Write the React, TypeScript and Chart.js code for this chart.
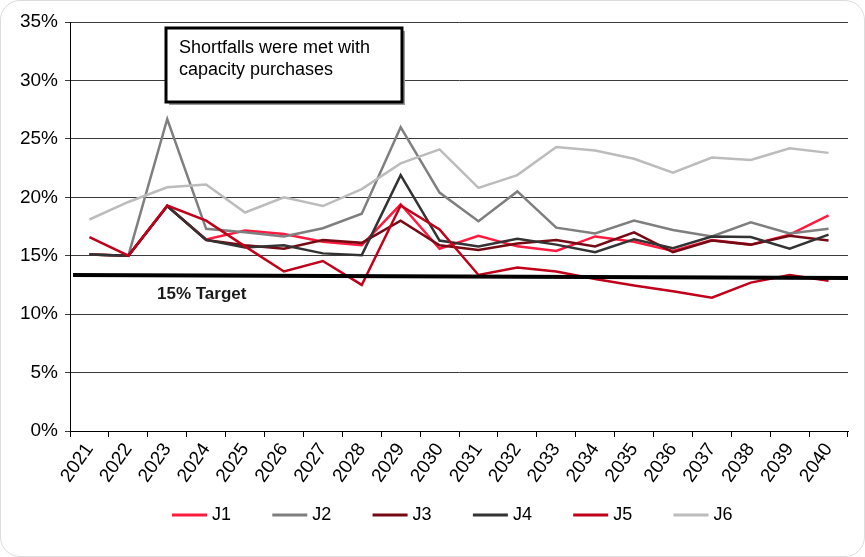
import React, { useEffect, useRef } from 'react';
import { Chart, registerables } from 'chart.js';

Chart.register(...registerables);

const YEARS = ['2021', '2022', '2023', '2024', '2025', '2026', '2027', '2028', '2029', '2030',
  '2031', '2032', '2033', '2034', '2035', '2036', '2037', '2038', '2039', '2040'];

const J1 = [15.1, 15.0, 19.25, 16.4, 17.15, 16.85, 16.2, 15.9, 19.4, 15.6, 16.7, 15.8, 15.4, 16.65, 16.2, 15.4, 16.35, 15.95, 16.8, 18.45];
const J2 = [15.1, 15.0, 26.7, 17.3, 17.0, 16.65, 17.35, 18.6, 26.0, 20.4, 17.95, 20.5, 17.4, 16.9, 18.0, 17.2, 16.65, 17.85, 16.9, 17.3];
const J3 = [15.1, 15.0, 19.25, 16.35, 15.9, 15.6, 16.35, 16.1, 18.0, 15.9, 15.5, 16.05, 16.35, 15.8, 17.0, 15.3, 16.3, 15.95, 16.7, 16.3];
const J4 = [15.1, 15.0, 19.25, 16.35, 15.7, 15.9, 15.2, 15.05, 21.9, 16.3, 15.8, 16.45, 15.95, 15.3, 16.4, 15.65, 16.65, 16.6, 15.6, 16.8];
const J5 = [16.6, 15.0, 19.3, 18.0, 15.8, 13.65, 14.55, 12.5, 19.3, 17.25, 13.35, 14.0, 13.65, 13.0, 12.45, 11.95, 11.4, 12.7, 13.35, 12.85];
const J6 = [18.1, 19.6, 20.85, 21.1, 18.7, 20.0, 19.25, 20.7, 22.9, 24.1, 20.8, 21.9, 24.3, 24.0, 23.3, 22.1, 23.4, 23.2, 24.2, 23.8];

const SERIES_NAMES = ['J1', 'J2', 'J3', 'J4', 'J5', 'J6'];
const SERIES_VALUES = [J1, J2, J3, J4, J5, J6];
const SERIES_COLORS = ['#ff1a40', '#7f7f7f', '#760a14', '#333333', '#c0001a', '#bcbcbc'];

const Y_MIN = 0;
const Y_MAX = 35;
const Y_STEP = 5;

// target line: start and end values (the drawn line is slightly tilted)
const TARGET_LINE = [13.35, 13.1];
const TARGET_LABEL = '15% Target';
const NOTE_LINES = ['Shortfalls were met with', 'capacity purchases'];

const FONT = '"Liberation Sans", Arial, sans-serif';

const overlayPlugin = {
  id: 'overlay',
  afterDatasetsDraw(chart: any) {
    const { ctx, chartArea, scales } = chart;
    const y = scales.y;
    ctx.save();
    // target line
    ctx.strokeStyle = '#000';
    ctx.lineWidth = 4;
    ctx.beginPath();
    ctx.moveTo(chartArea.left + 3, y.getPixelForValue(TARGET_LINE[0]));
    ctx.lineTo(chartArea.right, y.getPixelForValue(TARGET_LINE[1]));
    ctx.stroke();
    // target label
    ctx.fillStyle = '#1a1a1a';
    ctx.font = 'bold 17px ' + FONT;
    ctx.textAlign = 'left';
    ctx.textBaseline = 'middle';
    ctx.fillText(TARGET_LABEL, chartArea.left + 87, y.getPixelForValue(TARGET_LINE[0]) + 19);
    ctx.restore();
  },
  afterDraw(chart: any) {
    const { ctx, chartArea } = chart;
    ctx.save();
    // note box
    const bx = chartArea.left + 96;
    const by = chartArea.top + 6;
    const bw = 236;
    const bh = 74;
    ctx.fillStyle = '#9a9a9a';
    ctx.fillRect(bx + 3, by + 3, bw, bh);
    ctx.fillStyle = '#fff';
    ctx.fillRect(bx, by, bw, bh);
    ctx.strokeStyle = '#000';
    ctx.lineWidth = 3;
    ctx.strokeRect(bx, by, bw, bh);
    ctx.fillStyle = '#000';
    ctx.font = '18px ' + FONT;
    ctx.textAlign = 'left';
    ctx.textBaseline = 'middle';
    NOTE_LINES.forEach((t, i) => ctx.fillText(t, bx + 13, by + 20 + i * 22));

    // legend
    const cx = (chartArea.left + chartArea.right) / 2;
    const startX = cx - 287;
    const ly = 515;
    ctx.font = '18px ' + FONT;
    SERIES_NAMES.forEach((name, i) => {
      const x0 = startX + i * 100.3;
      ctx.strokeStyle = SERIES_COLORS[i];
      ctx.lineWidth = 3;
      ctx.beginPath();
      ctx.moveTo(x0, ly);
      ctx.lineTo(x0 + 35, ly);
      ctx.stroke();
      ctx.fillStyle = '#000';
      ctx.fillText(name, x0 + 40, ly);
    });
    ctx.restore();
  },
};

export default function App() {
  const ref = useRef<HTMLCanvasElement>(null);

  useEffect(() => {
    document.body.style.margin = '0';
    const n = SERIES_NAMES.length;
    const chart = new Chart(ref.current as HTMLCanvasElement, {
      type: 'line',
      data: {
        labels: YEARS,
        datasets: SERIES_NAMES.map((name, i) => ({
          label: name,
          data: SERIES_VALUES[i],
          borderColor: SERIES_COLORS[i],
          backgroundColor: SERIES_COLORS[i],
          borderWidth: 2.5,
          pointRadius: 0,
          tension: 0,
          fill: false,
          order: n - i,
        })),
      },
      options: {
        animation: false,
        responsive: false,
        devicePixelRatio: 1,
        layout: { padding: { top: 22, right: 17, left: 0, bottom: 0 } },
        plugins: {
          legend: { display: false },
          tooltip: { enabled: false },
        },
        scales: {
          x: {
            offset: true,
            grid: {
              offset: true,
              drawOnChartArea: false,
              drawTicks: true,
              tickLength: 6,
              color: '#000',
            },
            border: { display: true, color: '#000', width: 1 },
            ticks: {
              minRotation: 55,
              maxRotation: 55,
              autoSkip: false,
              color: '#000',
              padding: 2,
              font: { family: FONT, size: 19 },
            },
            afterFit(scale: any) {
              scale.height = 126;
            },
          },
          y: {
            min: Y_MIN,
            max: Y_MAX,
            ticks: {
              stepSize: Y_STEP,
              color: '#000',
              padding: 7,
              font: { family: FONT, size: 19 },
              callback: (v: any) => v + '%',
            },
            grid: {
              color: '#3a3a3a',
              lineWidth: 1,
              drawTicks: true,
              tickLength: 5,
            },
            border: { display: true, color: '#000', width: 1 },
            afterFit(scale: any) {
              scale.width = 70;
            },
          },
        },
      },
      plugins: [overlayPlugin],
    });
    return () => chart.destroy();
  }, []);

  return (
    <div style={{ position: 'relative', width: 865, height: 557, background: '#fff' }}>
      <canvas ref={ref} width={865} height={557} style={{ display: 'block', width: 865, height: 557 }} />
      <div
        style={{
          position: 'absolute',
          left: 0,
          top: 0,
          width: 865,
          height: 557,
          boxSizing: 'border-box',
          border: '1px solid #dcdcdc',
          borderRadius: 20,
          pointerEvents: 'none',
        }}
      />
    </div>
  );
}
